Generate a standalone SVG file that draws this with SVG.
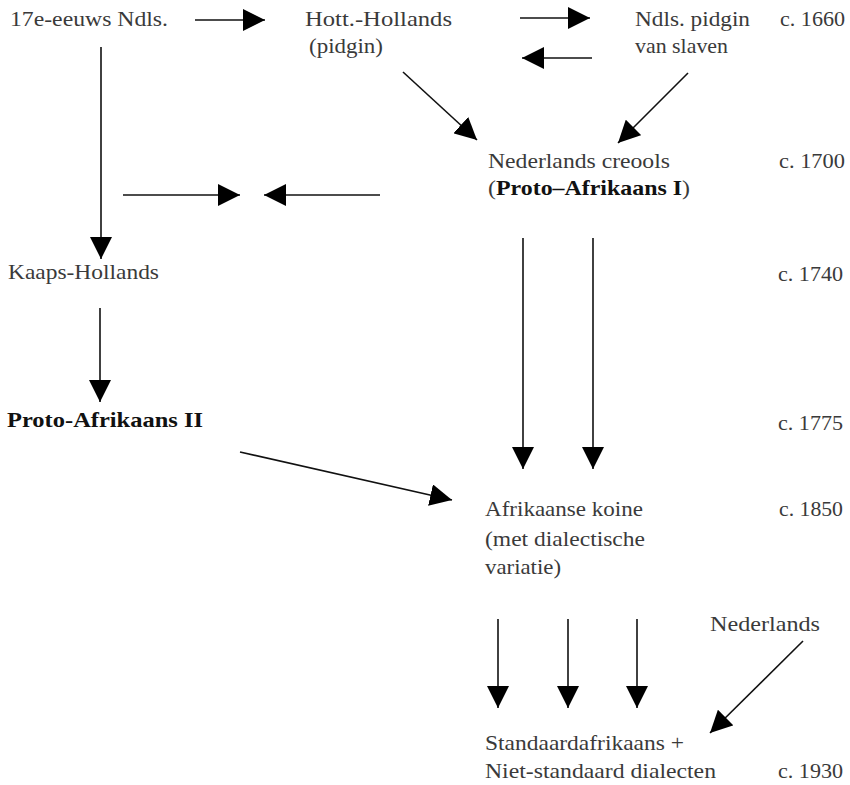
<svg xmlns="http://www.w3.org/2000/svg" width="850" height="785" viewBox="0 0 850 785">
<defs>
<marker id="ah" markerUnits="userSpaceOnUse" markerWidth="22" markerHeight="22" viewBox="0 0 20 20" refX="20" refY="10" orient="auto">
<path d="M0,0 L20,10 L0,20 Z" fill="#000"/>
</marker>
<style>
text{font-family:"Liberation Serif","Times New Roman",serif;font-size:21px;fill:#3a3a3a}
.b{font-weight:bold;fill:#111}
.c line{stroke:#111;stroke-width:1.6;marker-end:url(#ah)}
</style>
</defs>
<rect width="850" height="785" fill="#fff"/>
<g id="n17e"><text x="10" y="26" textLength="158" lengthAdjust="spacingAndGlyphs">17e-eeuws Ndls.</text></g>
<g id="hott"><text x="305" y="26" textLength="147" lengthAdjust="spacingAndGlyphs">Hott.-Hollands</text><text x="309" y="53" textLength="74" lengthAdjust="spacingAndGlyphs">(pidgin)</text></g>
<g id="slaven"><text x="635" y="26" textLength="115" lengthAdjust="spacingAndGlyphs">Ndls. pidgin</text><text x="635" y="53" textLength="93" lengthAdjust="spacingAndGlyphs">van slaven</text></g>
<g id="creools"><text x="488" y="168" textLength="182" lengthAdjust="spacingAndGlyphs">Nederlands creools</text><text x="488" y="195" textLength="202" lengthAdjust="spacingAndGlyphs">(<tspan class="b">Proto–Afrikaans I</tspan>)</text></g>
<g id="kaaps"><text x="8" y="279" textLength="151" lengthAdjust="spacingAndGlyphs">Kaaps-Hollands</text></g>
<g id="proto2"><text x="7" y="427" class="b" textLength="196" lengthAdjust="spacingAndGlyphs">Proto-Afrikaans II</text></g>
<g id="koine"><text x="485" y="516" textLength="158" lengthAdjust="spacingAndGlyphs">Afrikaanse koine</text><text x="485" y="546" textLength="160" lengthAdjust="spacingAndGlyphs">(met dialectische</text><text x="485" y="574" textLength="76" lengthAdjust="spacingAndGlyphs">variatie)</text></g>
<g id="ned"><text x="710" y="631" textLength="110" lengthAdjust="spacingAndGlyphs">Nederlands</text></g>
<g id="standaard"><text x="485" y="750" textLength="199" lengthAdjust="spacingAndGlyphs">Standaardafrikaans +</text><text x="485" y="778" textLength="231" lengthAdjust="spacingAndGlyphs">Niet-standaard dialecten</text></g>
<g id="dates">
<text x="780" y="26" textLength="65" lengthAdjust="spacingAndGlyphs">c. 1660</text>
<text x="779" y="168" textLength="66" lengthAdjust="spacingAndGlyphs">c. 1700</text>
<text x="778" y="281" textLength="65" lengthAdjust="spacingAndGlyphs">c. 1740</text>
<text x="778" y="430" textLength="65" lengthAdjust="spacingAndGlyphs">c. 1775</text>
<text x="779" y="516" textLength="64" lengthAdjust="spacingAndGlyphs">c. 1850</text>
<text x="778" y="778" textLength="65" lengthAdjust="spacingAndGlyphs">c. 1930</text>
</g>
<g id="connectors" class="c">
<line x1="195" y1="20" x2="265" y2="20"/>
<line x1="520" y1="18" x2="590" y2="18"/>
<line x1="592" y1="58" x2="522" y2="58"/>
<line x1="403" y1="72" x2="477" y2="140"/>
<line x1="688" y1="73" x2="618" y2="143"/>
<line x1="101" y1="47" x2="101" y2="259"/>
<line x1="123" y1="195" x2="240" y2="195"/>
<line x1="380" y1="195" x2="264" y2="195"/>
<line x1="100" y1="308" x2="100" y2="402"/>
<line x1="523" y1="238" x2="523" y2="469"/>
<line x1="593" y1="238" x2="593" y2="469"/>
<line x1="240" y1="452" x2="452" y2="500"/>
<line x1="498" y1="619" x2="498" y2="708"/>
<line x1="568" y1="619" x2="568" y2="708"/>
<line x1="637" y1="619" x2="637" y2="708"/>
<line x1="803" y1="641" x2="710" y2="733"/>
</g>
</svg>
